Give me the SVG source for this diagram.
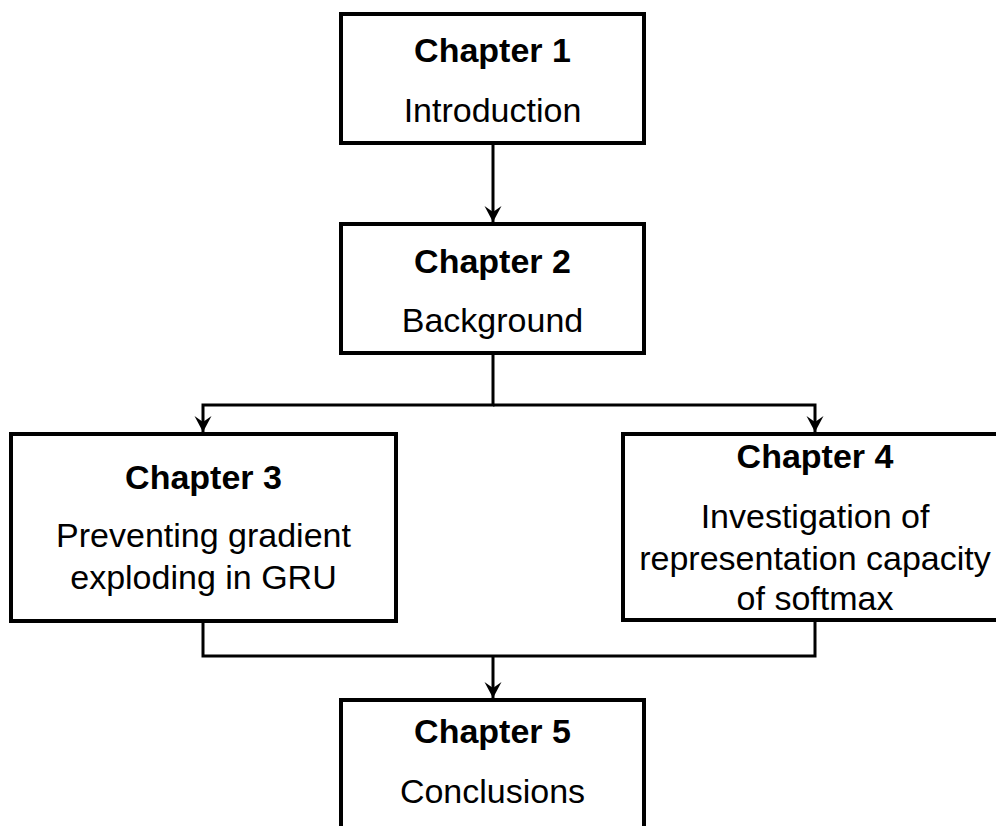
<svg xmlns="http://www.w3.org/2000/svg" width="996" height="826" viewBox="0 0 996 826">
  <style>
    .box { fill: #ffffff; stroke: #000000; stroke-width: 4; }
    .wire { fill: none; stroke: #000000; stroke-width: 3; }
    .title { font-family: "Liberation Sans", Arial, sans-serif; font-size: 34px; font-weight: bold; text-anchor: middle; fill: #000000; }
    .body { font-family: "Liberation Sans", Arial, sans-serif; font-size: 34px; text-anchor: middle; fill: #000000; }
  </style>
  <defs>
    <marker id="arrow" markerUnits="userSpaceOnUse" markerWidth="20" markerHeight="20" viewBox="-17 -10 19 20" refX="0" refY="0" orient="auto">
      <path d="M0,0 L-16,-8.5 L-10,0 L-16,8.5 Z" fill="#000000"/>
    </marker>
  </defs>
  <rect width="996" height="826" fill="#ffffff"/>

  <!-- connectors -->
  <g id="connectors">
    <path class="wire" d="M493,143 L493,222" marker-end="url(#arrow)"/>
    <path class="wire" d="M493,353 L493,405 L203,405 L203,432" marker-end="url(#arrow)"/>
    <path class="wire" d="M493,405 L815,405 L815,432" marker-end="url(#arrow)"/>
    <path class="wire" d="M203,621 L203,656 L815,656 L815,620"/>
    <path class="wire" d="M493,656 L493,698" marker-end="url(#arrow)"/>
  </g>

  <g id="chapter1">
    <rect class="box" x="341" y="14" width="303" height="129"/>
    <text class="title" x="492.5" y="62">Chapter 1</text>
    <text class="body" x="492.5" y="122">Introduction</text>
  </g>

  <g id="chapter2">
    <rect class="box" x="341" y="224" width="303" height="129"/>
    <text class="title" x="492.5" y="273">Chapter 2</text>
    <text class="body" x="492.5" y="332">Background</text>
  </g>

  <g id="chapter3">
    <rect class="box" x="11" y="434" width="385" height="187"/>
    <text class="title" x="203.5" y="489">Chapter 3</text>
    <text class="body" x="203.5" y="547">Preventing gradient</text>
    <text class="body" x="203.5" y="589">exploding in GRU</text>
  </g>

  <g id="chapter4">
    <rect class="box" x="623" y="434" width="385" height="186"/>
    <text class="title" x="815" y="468">Chapter 4</text>
    <text class="body" x="815" y="528">Investigation of</text>
    <text class="body" x="815" y="570">representation capacity</text>
    <text class="body" x="815" y="610">of softmax</text>
  </g>

  <g id="chapter5">
    <rect class="box" x="341" y="700" width="303" height="200"/>
    <text class="title" x="492.5" y="743">Chapter 5</text>
    <text class="body" x="492.5" y="803">Conclusions</text>
  </g>
</svg>
